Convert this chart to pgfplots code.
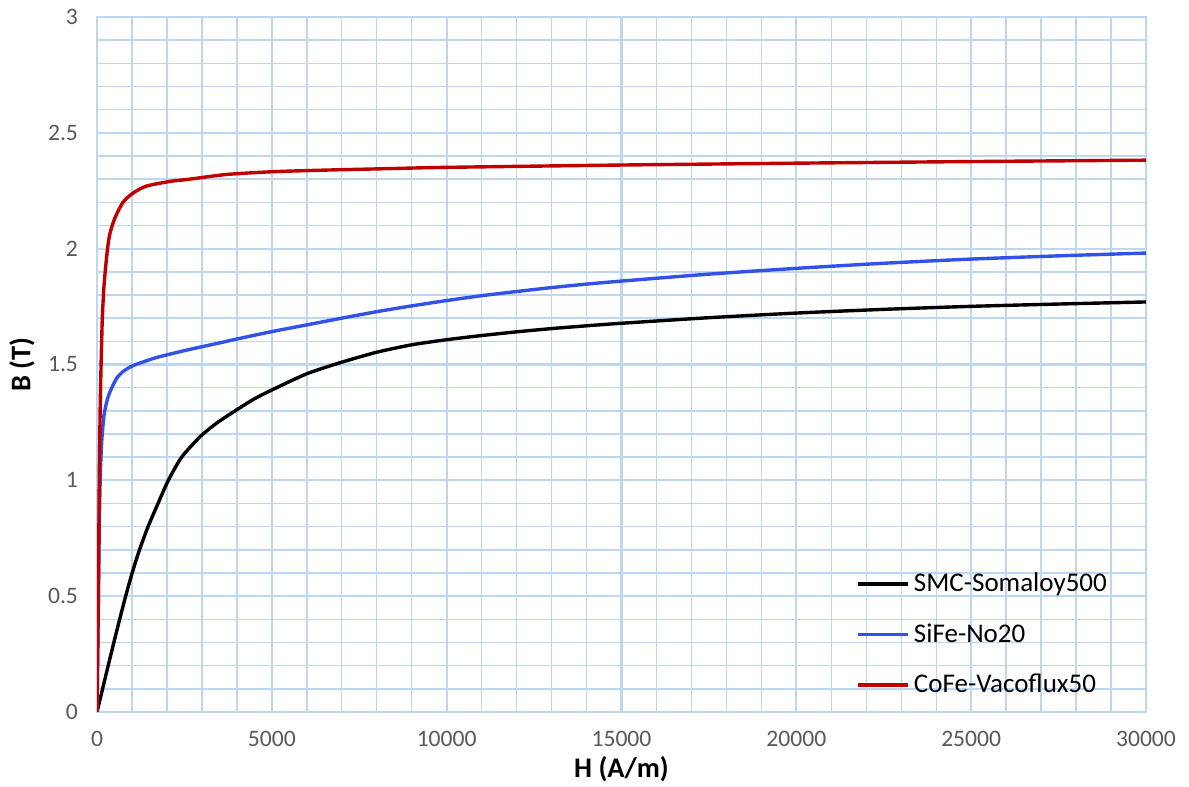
\documentclass[border=0pt]{standalone}
\usepackage{fontspec}
\setmainfont{Carlito}
\usepackage{pgfplots}
\pgfplotsset{compat=1.18}
\usepackage{pgfplotstable}
\definecolor{gridc}{RGB}{189,215,238}
\definecolor{ticklab}{RGB}{89,89,89}
\definecolor{cblue}{RGB}{49,81,232}
\definecolor{cred}{RGB}{192,0,0}

\pgfplotstableread{
H B
0 0
160 0.1
320 0.2
482 0.3
648 0.4
820 0.5
1005 0.6
1215 0.7
1460 0.8
1745 0.9
2040 1.0
2420 1.1
2960 1.19
3450 1.25
3950 1.30
4480 1.35
5000 1.39
6000 1.46
7000 1.51
8000 1.553
9000 1.585
10000 1.607
11000 1.625
12000 1.641
13000 1.655
14000 1.667
15000 1.678
17500 1.702
20000 1.722
22500 1.738
25000 1.751
27500 1.761
30000 1.770
}\smc

\pgfplotstableread{
H B
0 0
40 0.5
70 0.85
100 1.05
140 1.18
200 1.28
280 1.34
380 1.385
560 1.44
750 1.47
1030 1.495
1700 1.53
2650 1.565
3500 1.593
4000 1.61
5000 1.642
6000 1.671
7000 1.70
8000 1.728
9000 1.753
10000 1.776
11000 1.797
12000 1.815
13000 1.832
14000 1.847
15000 1.860
17500 1.890
20000 1.915
22500 1.937
25000 1.955
27500 1.969
30000 1.981
}\sife

\pgfplotstableread{
H B
0 0
40 0.5
65 1.0
90 1.3
105 1.42
125 1.55
152 1.70
200 1.84
286 1.98
362 2.06
505 2.13
743 2.20
1029 2.24
1410 2.27
2076 2.29
2650 2.30
3686 2.32
5000 2.332
6500 2.339
8500 2.346
10000 2.351
15000 2.361
20000 2.369
25000 2.376
30000 2.382
}\cofe

\begin{document}
\begin{tikzpicture}
\begin{axis}[
  scale only axis,
  width=524.5pt, height=347.5pt,
  xmin=0, xmax=30000, ymin=0, ymax=3,
  xtick={0,5000,...,30000},
  ytick={0,0.5,...,3},
  minor x tick num=4,
  minor y tick num=4,
  grid=both,
  minor grid style={color=gridc, line width=0.7pt},
  major grid style={color=gridc, line width=1.1pt},
  axis line style={color=gridc, line width=1.1pt},
  major tick length=0pt, minor tick length=0pt,
  scaled ticks=false,
  /pgf/number format/assume math mode=true,
  /pgf/number format/set thousands separator={},
  tick label style={color=ticklab, font=\fontsize{11.8}{14}\selectfont},
  xticklabel style={yshift=-6pt},
  yticklabel style={xshift=-6pt},
  xlabel={\textbf{H (A/m)}},
  ylabel={\textbf{B (T)}},
  label style={font=\fontsize{14.2}{17}\selectfont},
  xlabel style={at={(axis description cs:0.5,0)}, anchor=center, yshift=-28.5pt},
  ylabel style={at={(axis description cs:-0.0715,0.5)}, anchor=center},
  legend style={at={(axis description cs:0.718,0.212)}, anchor=north west, draw=none, fill=none,
    font=\fontsize{13.5}{16}\selectfont, row sep=10.5pt, text=black},
  legend cell align=left,
  legend image code/.code={\draw[#1] (0pt,0pt) -- (25pt,0pt);},
  every axis plot/.append style={line width=1.7pt, line join=round},
]
\addplot[black, smooth, tension=0.4] table[x=H,y=B] {\smc};
\addlegendentry{SMC-Somaloy500}
\addplot[cblue, smooth, tension=0.4] table[x=H,y=B] {\sife};
\addlegendentry{SiFe-No20}
\addplot[cred, smooth, tension=0.4] table[x=H,y=B] {\cofe};
\addlegendentry{CoFe-Vacoflux50}
\end{axis}
\pgfresetboundingbox
\useasboundingbox (-48.5pt,-37.5pt) rectangle (546pt,356pt);
\end{tikzpicture}
\end{document}
